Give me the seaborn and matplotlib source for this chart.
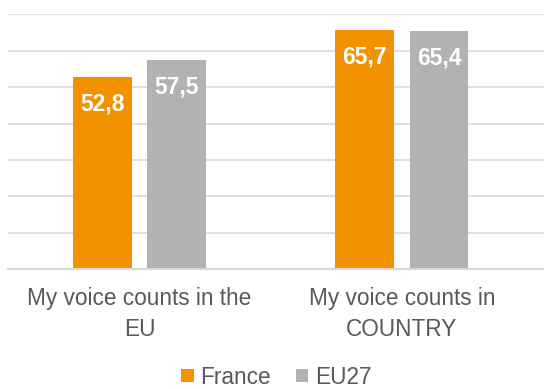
import numpy as np
import pandas as pd
import matplotlib
matplotlib.use("Agg")
import matplotlib.pyplot as plt
import seaborn as sns

# Chart data
categories = ["My voice counts in the\nEU", "My voice counts in\nCOUNTRY"]
series_names = ["France", "EU27"]
france_values = [52.8, 65.7]
eu27_values = [57.5, 65.4]
colors = ["#F39200", "#B2B2B2"]

# Long format for seaborn
df = pd.DataFrame({
    "category": categories * 2,
    "series": [series_names[0]] * 2 + [series_names[1]] * 2,
    "value": france_values + eu27_values,
})

sns.set_theme(style="white")
plt.rcParams["font.family"] = ["Liberation Sans", "DejaVu Sans"]

fig = plt.figure(figsize=(5.44, 3.89), dpi=100)
ax = fig.add_axes([8 / 544, 119.7 / 389, 536 / 544, 255 / 389])

sns.barplot(data=df, x="category", y="value", hue="series", palette=colors,
            width=0.568, gap=0.213, saturation=1, linewidth=0, ax=ax, legend=True)

# Axis styling
ax.set_ylim(0, 70)
ax.set_xlim(-0.501, 1.542)
ax.set_yticks(np.arange(0, 71, 10))
ax.set_yticklabels([])
ax.yaxis.grid(True, color="#D9D9D9", linewidth=1.2)
ax.set_axisbelow(True)
for side in ["top", "right", "left"]:
    ax.spines[side].set_visible(False)
ax.spines["bottom"].set_color("#D9D9D9")
ax.spines["bottom"].set_linewidth(1.5)
ax.tick_params(axis="y", length=0)
ax.tick_params(axis="x", length=0, pad=12.5, labelsize=16.3, labelcolor="#595959")
for lbl in ax.get_xticklabels():
    lbl.set_linespacing(1.45)
ax.set_xlabel("")
ax.set_ylabel("")

# Value labels inside the bars
for container in ax.containers:
    for bar in container:
        h = bar.get_height()
        ax.annotate(f"{h:.1f}".replace(".", ","),
                    (bar.get_x() + bar.get_width() / 2, h),
                    xytext=(0, -27), textcoords="offset pixels",
                    ha="center", va="center", color="white",
                    fontsize=16.5, fontweight="bold")

# Legend at the bottom
handles, labels = ax.get_legend_handles_labels()
ax.get_legend().remove()
fig.legend(handles, labels, loc="center", bbox_to_anchor=(276.5 / 544, 1 - 377 / 389),
           ncol=2, frameon=False, fontsize=16.3, handlelength=0.55, handleheight=0.55,
           handletextpad=0.3, columnspacing=1.1, labelcolor="#595959")

fig.savefig("out.png", dpi=100)
